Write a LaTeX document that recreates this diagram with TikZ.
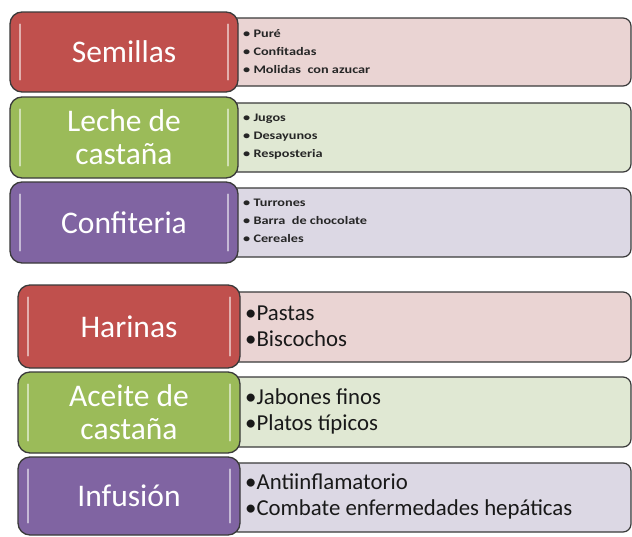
\documentclass[tikz,border=0pt]{standalone}
\usepackage{fontspec}
\setmainfont{Carlito}
\newfontfamily\smallfam[FakeStretch=1.24]{Carlito}
\definecolor{cRed}{HTML}{C0504D}
\definecolor{cGreen}{HTML}{9BBB59}
\definecolor{cPurple}{HTML}{8064A2}
\definecolor{lRed}{HTML}{EAD4D3}
\definecolor{lGreen}{HTML}{E0E8D3}
\definecolor{lPurple}{HTML}{DCD8E4}
\definecolor{edge}{HTML}{3A3A3A}
\begin{document}
\begin{tikzpicture}[x=1pt,y=-1pt,
  mainbox/.style={draw=edge, line width=1.3pt, rounded corners=12pt, inner sep=0pt, text=white,
    font=\fontsize{31.5}{33}\selectfont, align=center},
  detbox/.style={draw=edge, line width=1.2pt, rounded corners=8pt, inner sep=0pt},
  smalltxt/.style={anchor=west, align=left, inner sep=0pt, font=\smallfam\bfseries\fontsize{11.5}{18}\selectfont, text=black!85},
  bigtxt/.style={anchor=west, align=left, inner sep=0pt, font=\fontsize{22.8}{26}\selectfont, text=black!90},
  glint/.style={white, line width=2pt, opacity=0.55, line cap=round},
  hband/.style={white, line width=3pt, opacity=0.9, line cap=round}
]
\useasboundingbox (0,0) rectangle (632,536);
\fill[white] (0,0) rectangle (632,536);

% ---------- top group: detail boxes ----------
\node[detbox, fill=lRed, minimum width=403, minimum height=68] (semD) at (429.5,52) {};
\node[detbox, fill=lGreen, minimum width=403, minimum height=69] (lecD) at (429.5,137.5) {};
\node[detbox, fill=lPurple, minimum width=403, minimum height=69] (conD) at (429.5,222.5) {};
\foreach \n in {semD,lecD,conD}{
  \draw[hband] ([xshift=14pt,yshift=-4pt]\n.south west) -- ([xshift=-6pt,yshift=-4pt]\n.south east);
  \draw[hband, opacity=0.5] ([xshift=14pt,yshift=5pt]\n.north west) -- ([xshift=-10pt,yshift=5pt]\n.north east);
}

% ---------- top group: main boxes ----------
\node[mainbox, fill=cRed, minimum width=228, minimum height=80] (sem) at (124,52) {Semillas};
\node[mainbox, fill=cGreen, minimum width=228, minimum height=81] (lec) at (124,137.5) {Leche de\\castaña};
\node[mainbox, fill=cPurple, minimum width=228, minimum height=81] (con) at (124,222.5) {Confiteria};

% ---------- bottom group: detail boxes ----------
\node[detbox, fill=lRed, minimum width=401, minimum height=70] (harD) at (430.5,327) {};
\node[detbox, fill=lGreen, minimum width=401, minimum height=70] (aceD) at (430.5,412) {};
\node[detbox, fill=lPurple, minimum width=401, minimum height=69] (infD) at (430.5,497.5) {};
\foreach \n in {harD,aceD,infD}{
  \draw[hband] ([xshift=14pt,yshift=-5pt]\n.south west) -- ([xshift=-8pt,yshift=-5pt]\n.south east);
  \draw[hband, opacity=0.6] ([xshift=14pt,yshift=6pt]\n.north west) -- ([xshift=-12pt,yshift=6pt]\n.north east);
}

% ---------- bottom group: main boxes ----------
\node[mainbox, fill=cRed, minimum width=222, minimum height=83] (har) at (129,326.5) {Harinas};
\node[mainbox, fill=cGreen, minimum width=222, minimum height=81] (ace) at (129,412.5) {Aceite de\\castaña};
\node[mainbox, fill=cPurple, minimum width=222, minimum height=78] (inf) at (129,496) {Infusión};

% glints on main boxes
\foreach \n in {sem,lec,con,har,ace,inf}{
  \draw[glint] ([xshift=11pt,yshift=-13pt]\n.north west) -- ([xshift=11pt,yshift=13pt]\n.south west);
  \draw[glint] ([xshift=-11pt,yshift=-13pt]\n.north east) -- ([xshift=-11pt,yshift=13pt]\n.south east);
}

% ---------- texts ----------
\node[smalltxt] (semT) at (243,52) {• Puré\\• Confitadas\\• Molidas\ \ con azucar};
\node[smalltxt] (lecT) at (243,137) {• Jugos\\• Desayunos\\• Resposteria};
\node[smalltxt] (conT) at (243,221) {• Turrones\\• Barra\ \ de chocolate\\• Cereales};

\node[bigtxt] (harT) at (245,326) {•Pastas\\•Biscochos};
\node[bigtxt] (aceT) at (245,411) {•Jabones finos\\•Platos típicos};
\node[bigtxt] (infT) at (245,496) {•Antiinflamatorio\\•Combate enfermedades hepáticas};
\end{tikzpicture}
\end{document}
